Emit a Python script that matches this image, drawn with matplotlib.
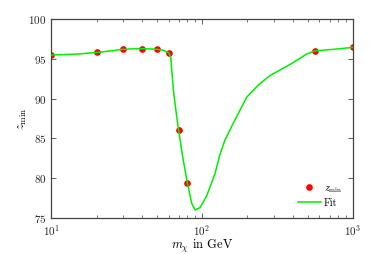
import matplotlib
matplotlib.use("Agg")
import matplotlib.pyplot as plt
from matplotlib.ticker import LogLocator, FixedLocator, NullFormatter

plt.rcParams['font.family'] = ['cmr10', 'DejaVu Serif']
plt.rcParams['mathtext.fontset'] = 'cm'
plt.rcParams['axes.formatter.use_mathtext'] = True
plt.rcParams['font.size'] = 8

# data points
mass = [10, 20, 30, 40, 50, 60, 70, 80, 560, 1000]
zmin = [95.48, 95.8, 96.2, 96.27, 96.2, 95.77, 86.0, 79.4, 96.0, 96.44]

# fit curve
fit_x = [10, 15, 20, 25, 30, 35, 40, 45, 50, 55, 60, 62, 64.6, 68, 70, 75, 80, 85.4,
         90, 97, 107, 113, 122, 131.5, 142, 161, 198, 236, 282, 329, 383, 440, 493, 560, 750, 1000]
fit_y = [95.48, 95.6, 95.8, 96.0, 96.2, 96.25, 96.27, 96.25, 96.2, 96.1, 95.77, 95.26, 91.1, 87.7,
         86.0, 82.3, 79.4, 76.85, 76.0, 76.3, 77.7, 78.9, 80.6, 83.0, 84.8, 86.9, 90.2, 91.7,
         92.9, 93.6, 94.3, 95.0, 95.6, 96.0, 96.2, 96.44]

y_ticks = [75, 80, 85, 90, 95, 100]

fig = plt.figure(figsize=(3.9, 2.54), dpi=100)
ax = fig.add_axes([0.131, 0.142, 0.774, 0.783])

ax.plot(mass, zmin, 'o', color='#ff0000', markersize=4.8, markeredgewidth=0,
        label=r'$z_{\min}$', zorder=2)
ax.plot(fit_x, fit_y, '-', color='#00ee00', linewidth=1.1, label='Fit', zorder=3)

ax.set_xscale('log')
ax.set_xlim(10, 1000)
ax.set_ylim(75, 100)
ax.yaxis.set_major_locator(FixedLocator(y_ticks))
ax.xaxis.set_major_locator(LogLocator(base=10, numticks=10))
ax.xaxis.set_minor_locator(LogLocator(base=10, subs=range(2, 10), numticks=20))
ax.xaxis.set_minor_formatter(NullFormatter())

for s in ax.spines.values():
    s.set_color('#444444')
    s.set_linewidth(0.9)
ax.tick_params(which='both', direction='in', top=True, right=True, colors='#444444',
               labelcolor='#222222')
ax.tick_params(which='major', length=3.5, width=0.6)
ax.tick_params(which='minor', length=2, width=0.5)

ax.set_xlabel(r'$m_\chi$ in GeV', fontsize=9, labelpad=0.5)
ax.set_ylabel(r'$z_{\min}$', fontsize=9, labelpad=-1)

ax.legend(loc='lower right', frameon=False, fontsize=7.5, handlelength=2.2,
          handletextpad=0.3, borderaxespad=0.6, labelspacing=0.3)

fig.savefig('out.png', dpi=100)
